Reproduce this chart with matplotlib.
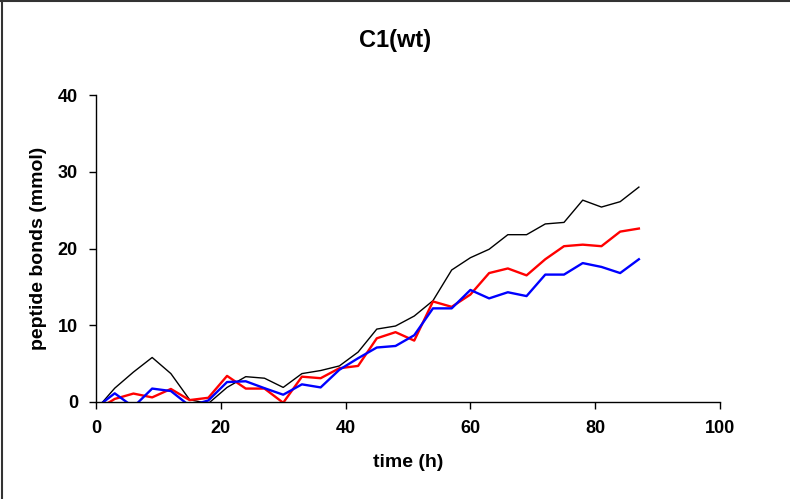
import numpy as np
import matplotlib
matplotlib.use("Agg")
import matplotlib.pyplot as plt
from matplotlib.lines import Line2D

# time points (h)
time_h = [0, 3, 6, 9, 12, 15, 18, 21, 24, 27, 30, 33, 36, 39, 42,
          45, 48, 51, 54, 57, 60, 63, 66, 69, 72, 75, 78, 81, 84, 87]

black_vals = [-1.0, 1.8, 3.9, 5.8, 3.7, 0.3, -0.2, 1.9, 3.3, 3.1, 1.9, 3.7, 4.1, 4.7, 6.5,
              9.5, 9.9, 11.2, 13.2, 17.2, 18.8, 19.9, 21.8, 21.8, 23.2, 23.4, 26.3, 25.4, 26.1, 28.0]

red_vals = [-1.1, 0.4, 1.1, 0.6, 1.7, 0.25, 0.55, 3.4, 1.75, 1.75, -0.1, 3.3, 3.1, 4.4, 4.7,
            8.3, 9.1, 8.0, 13.1, 12.4, 14.0, 16.8, 17.4, 16.5, 18.6, 20.3, 20.5, 20.3, 22.2, 22.6]

blue_vals = [-0.75, 1.13, -0.65, 1.75, 1.43, -0.5, 0.2, 2.6, 2.7, 1.8, 0.95, 2.3, 1.9, 4.2, 5.7,
             7.1, 7.3, 8.7, 12.2, 12.2, 14.6, 13.5, 14.3, 13.8, 16.6, 16.6, 18.1, 17.6, 16.8, 18.6]

x_ticks = [0, 20, 40, 60, 80, 100]
y_ticks = [0, 10, 20, 30, 40]

plt.rcParams['font.family'] = ['Liberation Sans', 'DejaVu Sans']

fig = plt.figure(figsize=(7.9, 4.99), dpi=100)
ax = fig.add_axes([96 / 790, 1 - 402 / 499, (720 - 96) / 790, (402 - 95) / 499])

ax.plot(time_h, black_vals, color='black', lw=1.0)
ax.plot(time_h, red_vals, color='#ff0000', lw=1.7)
ax.plot(time_h, blue_vals, color='#0000ff', lw=1.7)

ax.set_xlim(0, 100)
ax.set_ylim(0, 40)
ax.set_xticks(x_ticks)
ax.set_yticks(y_ticks)
ax.tick_params(direction='out', length=5, width=1, labelsize=13, pad=8)
for lab in ax.get_xticklabels() + ax.get_yticklabels():
    lab.set_fontweight('bold')

for side in ['top', 'right']:
    ax.spines[side].set_visible(False)
for side in ['left', 'bottom']:
    ax.spines[side].set_linewidth(1)

ax.set_xlabel('time (h)', fontsize=14, fontweight='bold', labelpad=12)
ax.set_ylabel('peptide bonds (mmol)', fontsize=14, fontweight='bold', labelpad=8)
fig.text(0.5, 1 - 40 / 499, 'C1(wt)', ha='center', va='center',
         fontsize=17, fontweight='bold')

# frame at the top and left edge of the picture
fig.add_artist(Line2D([0.002, 0.002], [0, 0.997], transform=fig.transFigure,
                      color='#333333', lw=1.5))
fig.add_artist(Line2D([0, 1], [0.997, 0.997], transform=fig.transFigure,
                      color='#333333', lw=1.5))

fig.savefig('out.png', dpi=100)
